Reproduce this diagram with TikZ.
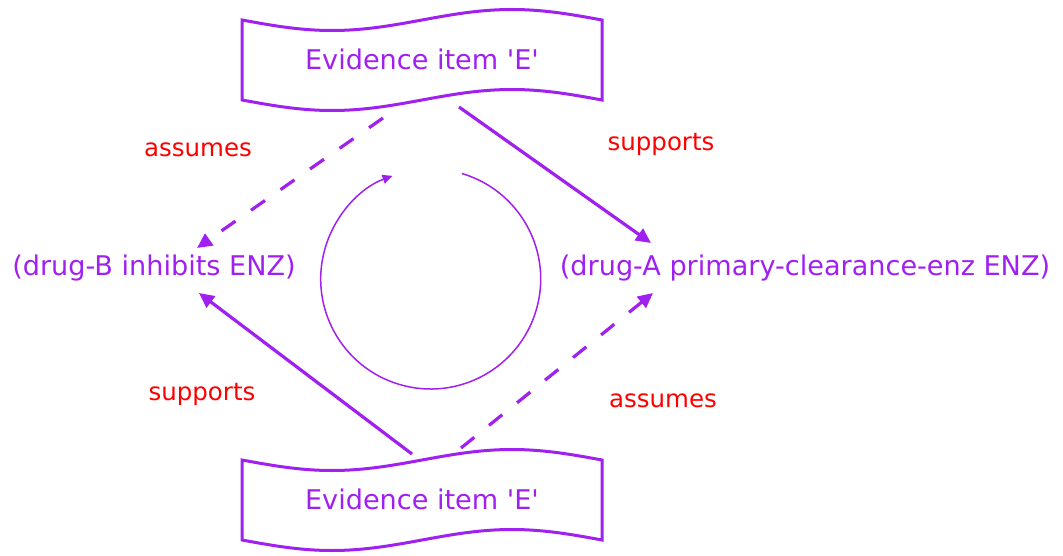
\documentclass[tikz,border=0pt]{standalone}
\usepackage{fontspec}
\setmainfont{DejaVu Sans}
\usetikzlibrary{arrows.meta}
\definecolor{vio}{RGB}{160,32,240}
\tikzset{
  txt/.style={text=vio, font=\fontsize{27.1}{31}\selectfont, inner sep=0pt},
  lbl/.style={text=red, font=\fontsize{24.5}{28}\selectfont, inner sep=0pt},
  tapeline/.style={draw=vio, line width=3pt, line join=miter},
  supp/.style={draw=vio, line width=3.2pt, -{Triangle[length=15pt,width=14pt]}},
  assum/.style={supp, dash pattern=on 17pt off 19pt},
  cyc/.style={draw=vio, line width=1.5pt, -{Triangle[length=10pt,width=9pt]}}
}
\begin{document}
\begin{tikzpicture}[x=1pt,y=-1pt]
\useasboundingbox (0,0) rectangle (1063,556);
% tapes
\node[txt, minimum width=360pt, minimum height=80pt] (top) at (422,59) {Evidence item \textquotesingle E\textquotesingle};
\node[txt, minimum width=360pt, minimum height=80pt] (bot) at (422,499) {Evidence item \textquotesingle E\textquotesingle};
\foreach \n in {top,bot}{
  \draw[tapeline] ([shift={(-180,-39)}]\n.center) sin ++(90,10.5) cos ++(90,-10.5) sin ++(90,-10.5) cos ++(90,10.5)
    -- ++(0,80) sin ++(-90,-10.5) cos ++(-90,10.5) sin ++(-90,10.5) cos ++(-90,-10.5) -- cycle;
}
\node[txt] (left) at (154,268) {(drug-B inhibits ENZ)};
\node[txt] (right) at (805,268) {(drug-A primary-clearance-enz ENZ)};
% labels
\node[lbl] (l1) at (198,150) {assumes};
\node[lbl] (l2) at (661,144) {supports};
\node[lbl] (l3) at (202,394) {supports};
\node[lbl] (l4) at (663,401) {assumes};
% connectors
\draw[assum] ([shift={(-39,59)}]top.center) -- ([shift={(43,-20)}]left.center);
\draw[supp] ([shift={(37,48)}]top.center) -- ([shift={(-154,-25)}]right.center);
\draw[supp] ([shift={(-10,-45)}]bot.center) -- ([shift={(45,25)}]left.center);
\draw[assum] ([shift={(39,-51)}]bot.center) -- ([shift={(-152,25)}]right.center);
% cycle
\coordinate (cc) at (430.7,279);
\draw[cyc] ([shift={(-73.5:110)}]cc) arc[start angle=-73.5, end angle=249.7, radius=110];
\end{tikzpicture}
\end{document}
